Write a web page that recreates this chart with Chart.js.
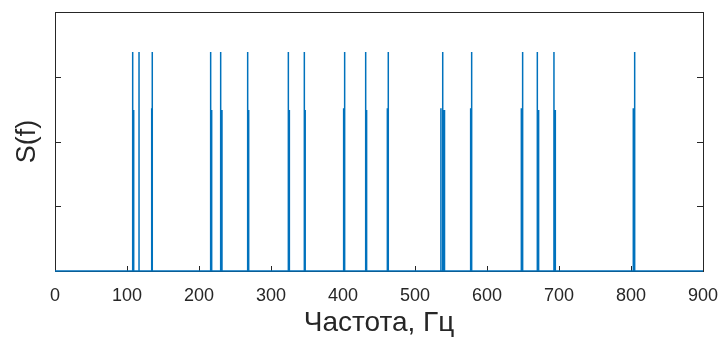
<!DOCTYPE html>
<html>
<head>
<meta charset="utf-8">
<script src="https://cdn.jsdelivr.net/npm/chart.js@4.4.0/dist/chart.umd.min.js"></script>
<style>
  html, body { margin: 0; padding: 0; background: #fff; }
  #wrap { width: 719px; height: 341px; }
</style>
</head>
<body>
<div id="wrap"><canvas id="spec" width="719" height="341"></canvas></div>
<script>
// spectrum lines: frequency (Hz) and level
const spikeFreq = [107.9, 109.3, 116.7, 134.3, 135.1, 216.2, 217.6, 230.1, 231.9, 267.6, 269.0,
    324.1, 325.5, 346.3, 347.5, 400.9, 402.3, 431.5, 432.8, 461.6, 462.9, 536.0, 538.5, 539.0, 541.0,
    577.3, 578.7, 647.7, 649.5, 669.9, 671.7, 693.0, 694.9, 803.2, 805.1];
const spikeAmp = [0.846, 0.622, 0.846, 0.628, 0.846, 0.846, 0.622, 0.846, 0.622, 0.846, 0.622,
    0.846, 0.622, 0.846, 0.622, 0.628, 0.846, 0.846, 0.622, 0.628, 0.846, 0.628, 0.846, 0.622, 0.622,
    0.628, 0.846, 0.628, 0.846, 0.846, 0.622, 0.846, 0.622, 0.628, 0.846];
const xTicks = [0, 100, 200, 300, 400, 500, 600, 700, 800, 900];
const yTicks = [0, 0.25, 0.5, 0.75, 1];

const xLabel = 'Частота, Гц';
const yLabel = 'S(f)';

// build the line: flat zero with vertical spikes
const points = [{x: 0, y: 0}];
for (let i = 0; i < spikeFreq.length; i++) {
    points.push({x: spikeFreq[i], y: 0});
    points.push({x: spikeFreq[i], y: spikeAmp[i]});
    points.push({x: spikeFreq[i], y: 0});
}
points.push({x: 900, y: 0});

const axisColor = '#262626';
const fontFam = '"Liberation Sans", Arial, sans-serif';

// matlab style box with inward ticks
const boxPlugin = {
    id: 'box',
    beforeDatasetsDraw(chart) {
        const ctx = chart.ctx;
        const a = chart.chartArea;
        const xs = chart.scales.x, ys = chart.scales.y;
        ctx.save();
        ctx.strokeStyle = axisColor;
        ctx.lineWidth = 1;
        ctx.strokeRect(Math.round(a.left) + 0.5, Math.round(a.top) + 0.5,
            Math.round(a.right - a.left), Math.round(a.bottom - a.top));
        ctx.beginPath();
        for (const t of xTicks) {
            const px = Math.round(xs.getPixelForValue(t)) + 0.5;
            ctx.moveTo(px, a.bottom);
            ctx.lineTo(px, a.bottom - 5);
        }
        for (const t of yTicks) {
            const py = Math.round(ys.getPixelForValue(t)) + 0.5;
            ctx.moveTo(a.left, py);
            ctx.lineTo(a.left + 6, py);
            ctx.moveTo(a.right, py);
            ctx.lineTo(a.right - 6, py);
        }
        ctx.stroke();
        ctx.restore();
    }
};

new Chart(document.getElementById('spec'), {
    type: 'line',
    data: {
        datasets: [{
            data: points,
            borderColor: '#0072BD',
            borderWidth: 1.5,
            pointRadius: 0,
            tension: 0,
            clip: false,
        }]
    },
    options: {
        responsive: false,
        animation: false,
        devicePixelRatio: 1,
        layout: { padding: { left: 0, right: 16, top: 12, bottom: 0 } },
        plugins: { legend: { display: false }, tooltip: { enabled: false } },
        scales: {
            x: {
                type: 'linear',
                min: 0,
                max: 900,
                afterBuildTicks: (s) => { s.ticks = xTicks.map(v => ({value: v})); },
                afterFit: (s) => { s.height = 70; s.paddingLeft = 0; s.paddingRight = 0; },
                grid: { display: false },
                border: { display: false },
                ticks: { color: axisColor, padding: 6, maxRotation: 0, font: { family: fontFam, size: 18 } },
                title: {
                    display: true,
                    text: xLabel,
                    color: axisColor,
                    font: { family: fontFam, size: 28 },
                    padding: { top: 0, bottom: 1 }
                }
            },
            y: {
                min: 0,
                max: 1,
                afterBuildTicks: (s) => { s.ticks = yTicks.map(v => ({value: v})); },
                afterFit: (s) => { s.width = 55; s.paddingTop = 0; s.paddingBottom = 0; },
                grid: { display: false },
                border: { display: false },
                ticks: { display: false },
                title: {
                    display: true,
                    text: yLabel,
                    color: axisColor,
                    font: { family: fontFam, size: 27 },
                    padding: { top: 11, bottom: 0 }
                }
            }
        }
    },
    plugins: [boxPlugin]
});
</script>
</body>
</html>
